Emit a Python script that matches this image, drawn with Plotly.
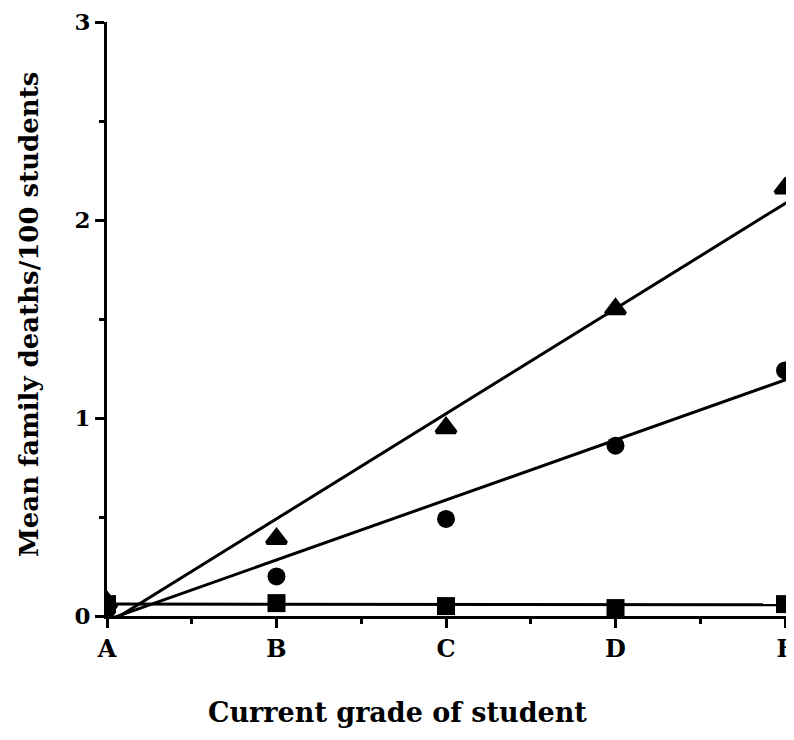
import plotly.graph_objects as go

# Categories (x positions are grade indices)
grades = ["A", "B", "C", "D", "F"]
grade_pos = [0, 1, 2, 3, 4]

triangles = [0.07, 0.39, 0.95, 1.55, 2.16]
circles = [0.03, 0.20, 0.49, 0.86, 1.24]
squares = [0.06, 0.065, 0.05, 0.04, 0.06]

# Fitted regression lines: values at grade A and just past grade F
fit_x = [0, 4.06]
tri_fit = [-0.04, 2.115]
circ_fit = [-0.02, 1.21]
sq_fit = [0.06, 0.057]

y_ticks = [0, 1, 2, 3]

FONT = "DejaVu Serif"
BLACK = "#000000"

OFF = 8  # page body margin
W, H = 794 - OFF, 740 - 2 * OFF
L, R, T = 107 - OFF, 0, 22 - OFF
B = H - (616 - OFF)
PW, PH = W - L - R, H - T - B

fig = go.Figure()

for fy in (tri_fit, circ_fit, sq_fit):
    fig.add_trace(go.Scatter(x=fit_x, y=fy, mode="lines",
                             line=dict(color=BLACK, width=3),
                             showlegend=False, hoverinfo="skip"))

fig.add_trace(go.Scatter(x=grade_pos, y=triangles, mode="markers",
                         marker=dict(symbol="triangle-up", size=17, color=BLACK,
                                     line=dict(color=BLACK, width=4)),
                         showlegend=False))
fig.add_trace(go.Scatter(x=grade_pos, y=circles, mode="markers",
                         marker=dict(symbol="circle", size=18, color=BLACK,
                                     line=dict(width=0)),
                         showlegend=False))
fig.add_trace(go.Scatter(x=grade_pos, y=squares, mode="markers",
                         marker=dict(symbol="square", size=18, color=BLACK,
                                     line=dict(width=0)),
                         showlegend=False))

fig.update_layout(
    width=W, height=H,
    margin=dict(l=L, r=R, t=T, b=B, autoexpand=False),
    paper_bgcolor="white", plot_bgcolor="white",
    font=dict(family=FONT, color=BLACK, size=23, weight="bold"),
    showlegend=False,
)

fig.update_xaxes(
    range=[0, 4.053], automargin=False, ticklabeloverflow="allow",
    tickmode="array", tickvals=grade_pos, ticktext=grades,
    ticks="outside", ticklen=9, tickwidth=3, tickcolor=BLACK,
    minor=dict(ticks="outside", tick0=0.5, dtick=1, ticklen=5, tickwidth=3, tickcolor=BLACK),
    showline=True, linecolor=BLACK, linewidth=3,
    showgrid=False, zeroline=False,
    tickfont=dict(family=FONT, size=24, weight="bold"),
)

fig.update_yaxes(
    range=[0, 3], automargin=False, ticklabeloverflow="allow",
    tickmode="array", tickvals=y_ticks, ticktext=[str(v) for v in y_ticks],
    ticks="outside", ticklen=9, tickwidth=3, tickcolor=BLACK,
    minor=dict(ticks="outside", tick0=0, dtick=0.5, ticklen=5, tickwidth=3, tickcolor=BLACK),
    showline=True, linecolor=BLACK, linewidth=3,
    showgrid=False, zeroline=False,
    tickfont=dict(family=FONT, size=23, weight="bold"),
)

# Axis titles placed as annotations (page pixel targets converted to paper coords)
def px(xp):
    return (xp - OFF - L) / PW

def py(yp):
    return (T + PH - (yp - OFF)) / PH

fig.add_annotation(text="Current grade of student", xref="paper", yref="paper",
                   x=px(397), y=py(712), xanchor="center", yanchor="middle",
                   showarrow=False, font=dict(family=FONT, size=27, weight="bold", color=BLACK))
fig.add_annotation(text="Mean family deaths/100 students", xref="paper", yref="paper",
                   x=px(29), y=py(315), xanchor="center", yanchor="middle",
                   textangle=-90, showarrow=False,
                   font=dict(family=FONT, size=26, weight="bold", color=BLACK))

fig.write_html("out.html")
